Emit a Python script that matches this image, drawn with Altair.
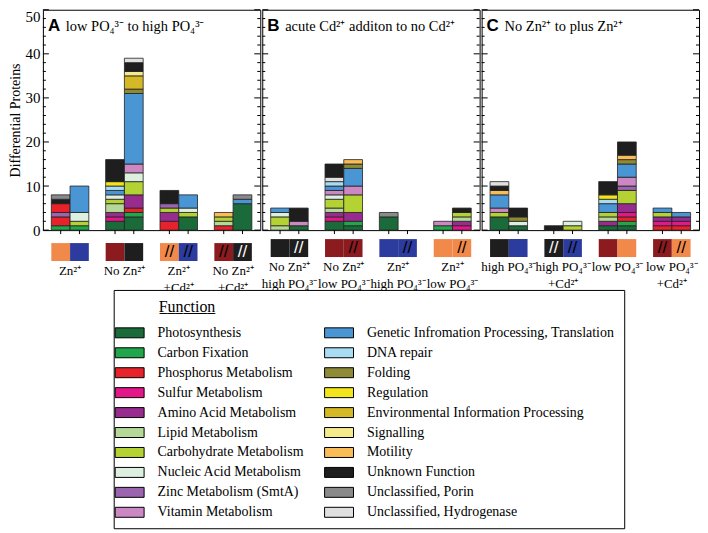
import altair as alt
import pandas as pd

SERIF = "Liberation Serif"
SANS = "Liberation Sans"

ZN = "Zn\u00b2\u207a"
CD = "Cd\u00b2\u207a"
PO = "PO\u2084\u00b3\u207b"

FUNCTIONS = [
    "Photosynthesis", "Carbon Fixation", "Phosphorus Metabolism", "Sulfur Metabolism",
    "Amino Acid Metabolism", "Lipid Metabolism", "Carbohydrate Metabolism",
    "Nucleic Acid Metabolism", "Zinc Metabolism (SmtA)", "Vitamin Metabolism",
    "Genetic Infromation Processing, Translation", "DNA repair", "Folding", "Regulation",
    "Environmental Information Processing", "Signalling", "Motility", "Unknown Function",
    "Unclassified, Porin", "Unclassified, Hydrogenase",
]
KEYS = ["PS", "CF", "P", "S", "AA", "LIP", "CHO", "NA", "ZN", "VIT",
        "GEN", "DNA", "FOLD", "REG", "ENV", "SIG", "MOT", "UNK", "POR", "HYD"]
COLORS = [
    "#1b6b3a", "#22a64b", "#e8222b", "#e3168a", "#982c8e", "#b5d898", "#b4d233",
    "#ddefdf", "#9a64af", "#cc88c3", "#4a95d4", "#a9dcf3", "#8e8a36", "#f3e51c",
    "#d5b825", "#f5ea8c", "#f9bc57", "#1e1e1e", "#8a8a8a", "#e0e0e0",
]

# panel A: low PO4 to high PO4
A1a = [("CF", 1), ("P", 2), ("ZN", 1), ("P", 2), ("UNK", 1), ("POR", 1)]
A1b = [("CF", 1), ("CHO", 1), ("NA", 2), ("GEN", 6)]
A2a = [("PS", 2), ("S", 1), ("AA", 1), ("LIP", 2), ("CHO", 1), ("NA", 1), ("GEN", 1),
       ("DNA", 1), ("REG", 1), ("UNK", 5)]
A2b = [("PS", 3), ("CF", 1), ("P", 1), ("AA", 3), ("CHO", 3), ("NA", 2), ("VIT", 2),
       ("GEN", 16), ("FOLD", 1), ("ENV", 3), ("SIG", 1), ("UNK", 2), ("HYD", 1)]
A3a = [("P", 2), ("AA", 2), ("CHO", 1), ("ZN", 1), ("UNK", 3)]
A3b = [("PS", 3), ("CHO", 1), ("NA", 1), ("GEN", 3)]
A4a = [("P", 1), ("LIP", 1), ("CHO", 1), ("MOT", 1)]
A4b = [("PS", 6), ("GEN", 1), ("POR", 1)]
# panel B: acute Cd addition to no Cd
B1a = [("LIP", 1), ("CHO", 2), ("NA", 1), ("GEN", 1)]
B1b = [("PS", 1), ("VIT", 1), ("UNK", 3)]
B2a = [("PS", 2), ("S", 1), ("AA", 1), ("LIP", 1), ("CHO", 2), ("NA", 1), ("VIT", 1),
       ("GEN", 1), ("DNA", 1), ("HYD", 1), ("UNK", 3)]
B2b = [("PS", 1), ("CF", 1), ("AA", 2), ("CHO", 4), ("VIT", 2), ("GEN", 4), ("FOLD", 1),
       ("MOT", 1)]
B3a = [("PS", 3), ("POR", 1)]
B3b = []
B4a = [("CF", 1), ("VIT", 1)]
B4b = [("S", 1), ("AA", 1), ("LIP", 1), ("CHO", 1), ("UNK", 1)]
# panel C: no Zn to plus Zn
C1a = [("PS", 3), ("CHO", 1), ("VIT", 1), ("GEN", 3), ("MOT", 1), ("UNK", 1), ("HYD", 1)]
C1b = [("PS", 1), ("NA", 1), ("FOLD", 1), ("UNK", 2)]
C2a = [("UNK", 1)]
C2b = [("CHO", 1), ("NA", 1)]
C3a = [("PS", 1), ("AA", 1), ("LIP", 1), ("CHO", 1), ("GEN", 2), ("DNA", 1), ("REG", 1),
       ("UNK", 3)]
C3b = [("PS", 1), ("CF", 1), ("P", 1), ("S", 1), ("AA", 2), ("CHO", 3), ("ZN", 1),
       ("VIT", 2), ("GEN", 3), ("FOLD", 1), ("MOT", 1), ("UNK", 3)]
C4a = [("P", 1), ("S", 1), ("AA", 1), ("CHO", 1), ("GEN", 1)]
C4b = [("P", 1), ("S", 1), ("AA", 1), ("GEN", 1)]

GROUP_LABELS = {
    "A": [ZN, "No " + ZN, ZN + "|+" + CD, "No " + ZN + "|+" + CD],
    "B": ["No " + ZN + "|high " + PO, "No " + ZN + "|low " + PO,
          ZN + "|high " + PO, ZN + "|low " + PO],
    "C": ["high " + PO, "high " + PO + "|+" + CD, "low " + PO, "low " + PO + "|+" + CD],
}
BARS = {
    "A": [(A1a, A1b), (A2a, A2b), (A3a, A3b), (A4a, A4b)],
    "B": [(B1a, B1b), (B2a, B2b), (B3a, B3b), (B4a, B4b)],
    "C": [(C1a, C1b), (C2a, C2b), (C3a, C3b), (C4a, C4b)],
}
TITLES = {
    "A": "low " + PO + " to high " + PO,
    "B": "acute " + CD + " additon to no " + CD,
    "C": "No " + ZN + " to plus " + ZN,
}

ORANGE, BLUE, DRED, BLACK = "#f0894a", "#2c3b9e", "#8c1b20", "#1e1e1e"
# swatches: (colour, hatched) for each bar of each group
SWATCHES = {
    "A": [((ORANGE, 0), (BLUE, 0)), ((DRED, 0), (BLACK, 0)),
          ((ORANGE, 1), (BLUE, 1)), ((DRED, 1), (BLACK, 1))],
    "B": [((BLACK, 0), (BLACK, 1)), ((DRED, 0), (DRED, 1)),
          ((BLUE, 0), (BLUE, 1)), ((ORANGE, 0), (ORANGE, 1))],
    "C": [((BLACK, 0), (BLUE, 0)), ((BLACK, 1), (BLUE, 1)),
          ((DRED, 0), (ORANGE, 0)), ((DRED, 1), (ORANGE, 1))],
}
TICK_VALUES = list(range(0, 51, 2))

name_of = dict(zip(KEYS, FUNCTIONS))
rows, sw_rows = [], []
for p, groups in BARS.items():
    for gi, pair in enumerate(groups):
        for b, segs in zip(["a", "b"], pair):
            for si, (k, n) in enumerate(segs):
                rows.append(dict(panel=p, group=GROUP_LABELS[p][gi], bar=b, seg=si,
                                 function=name_of[k], count=n))
        for b, (col, h) in zip(["a", "b"], SWATCHES[p][gi]):
            sw_rows.append(dict(panel=p, group=GROUP_LABELS[p][gi], bar=b, fill=col,
                                hatch=h, hcol="#ffffff" if col == BLACK else "#000000"))
bar_df = pd.DataFrame(rows)
sw_df = pd.DataFrame(sw_rows)
tick_df = pd.DataFrame({"v": TICK_VALUES})

color_scale = alt.Scale(domain=FUNCTIONS, range=COLORS)
legend = alt.Legend(
    orient="none", legendX=71, legendY=281, columns=2, columnPadding=18,
    gridAlign="each", rowPadding=6, padding=9, strokeColor="black", fillColor="white",
    symbolType="M-2.9,-1H2.9V1H-2.9Z", symbolSize=100, symbolStrokeColor="black",
    symbolStrokeWidth=1, symbolOpacity=1, labelFont=SERIF, labelFontSize=14,
    labelColor="black", labelLimit=400, labelOffset=21,
    title="\u2800" * 3 + "F\u0332u\u0332n\u0332c\u0332t\u0332i\u0332o\u0332n\u0332",
    titleFont=SERIF, titleFontSize=16, titleFontWeight="normal", titleColor="black",
    titlePadding=11,
)

W, H, SWH = 218, 221, 18


def panel(p, first):
    labels = GROUP_LABELS[p]
    xsc = alt.Scale(domain=labels, paddingInner=0.31, paddingOuter=0.155)
    osc = alt.Scale(domain=["a", "b"], paddingInner=0, paddingOuter=0)
    ysc = alt.Scale(domain=[0, 50], nice=False)
    if first:
        yax = alt.Axis(values=[0, 10, 20, 30, 40, 50], ticks=False, domain=False, grid=False,
                       labelFont=SERIF, labelFontSize=15, labelColor="black", labelPadding=3,
                       labelBaseline={"condition": {"test": "datum.value === 50",
                                                    "value": "top"}, "value": "middle"},
                       title="Differential Proteins", titleFont=SERIF, titleFontSize=14,
                       titleFontWeight="normal", titleColor="black", titlePadding=2)
    else:
        yax = None
    X = alt.X("group:N", sort=labels, scale=xsc, axis=None)
    XO = alt.XOffset("bar:N", scale=osc)

    bars = alt.Chart(bar_df[bar_df.panel == p]).mark_bar(
        stroke="#222222", strokeWidth=0.8).encode(
        x=X, xOffset=XO,
        y=alt.Y("count:Q", stack="zero", scale=ysc, axis=yax),
        color=alt.Color("function:N", scale=color_scale, legend=legend),
        order=alt.Order("seg:Q"),
    )
    tk = alt.Chart(tick_df).mark_rule(color="black", strokeWidth=1).encode(
        y=alt.Y("v:Q", scale=ysc, axis=yax))
    major = tk.transform_filter("datum.v % 10 == 0")
    minor = tk.transform_filter("datum.v % 10 != 0")
    ticks = [
        major.encode(x=alt.value(0), x2=alt.value(6)),
        minor.encode(x=alt.value(0), x2=alt.value(3)),
        major.encode(x=alt.value(W), x2=alt.value(W - 6)),
        minor.encode(x=alt.value(W), x2=alt.value(W - 3)),
    ]
    slots = sw_df[sw_df.panel == p]
    xticks = alt.Chart(slots).mark_rule(color="black").encode(
        x=X, xOffset=XO, y=alt.value(H), y2=alt.value(H + 4))
    tdf = pd.DataFrame({"letter": [p], "text": [TITLES[p]]})
    letter = alt.Chart(tdf).mark_text(font=SANS, fontWeight="bold", fontSize=17,
                                      align="left", baseline="alphabetic", color="black").encode(
        x=alt.value(5), y=alt.value(21), text="letter:N")
    ttext = alt.Chart(tdf).mark_text(font=SERIF, fontSize=14.5, align="left",
                                     baseline="alphabetic", color="black").encode(
        x=alt.value(23), y=alt.value(21), text="text:N")
    top = alt.layer(bars, *ticks, xticks, letter, ttext).properties(
        width=W, height=H, view=alt.ViewBackground(stroke="black", strokeWidth=1))

    XL = alt.X("group:N", sort=labels, scale=xsc, title=None,
               axis=alt.Axis(orient="bottom", domain=False, ticks=False, labelPadding=4,
                             labelFont=SERIF, labelFontSize=13, labelColor="black",
                             labelAngle=0, labelExpr="split(datum.value, '|')",
                             labelLineHeight=17, labelOverlap=False))
    sw = alt.Chart(slots).mark_rect().encode(
        x=XL, xOffset=XO, fill=alt.Fill("fill:N", scale=None))
    hatch = alt.Chart(slots[slots.hatch == 1]).mark_text(
        text="//", font=SANS, fontSize=17, baseline="middle").encode(
        x=XL, xOffset=XO, y=alt.value(SWH / 2), fill=alt.Fill("hcol:N", scale=None))
    bottom = alt.layer(sw, hatch).properties(width=W, height=SWH)
    return alt.vconcat(top, bottom, spacing=4).resolve_scale(
        x="shared", xOffset="shared")


chart = alt.hconcat(panel("A", True), panel("B", False), panel("C", False), spacing=0
                    ).resolve_scale(x="independent", xOffset="independent",
                                    y="independent", color="shared", fill="independent"
                    ).properties(padding=0).configure(font=SERIF
                    ).configure_view(strokeWidth=0
                    ).configure_axis(labelFont=SERIF, titleFont=SERIF
                    ).configure_text(font=SERIF)

chart.save("out.html", embed_options={"renderer": "svg", "actions": False})
